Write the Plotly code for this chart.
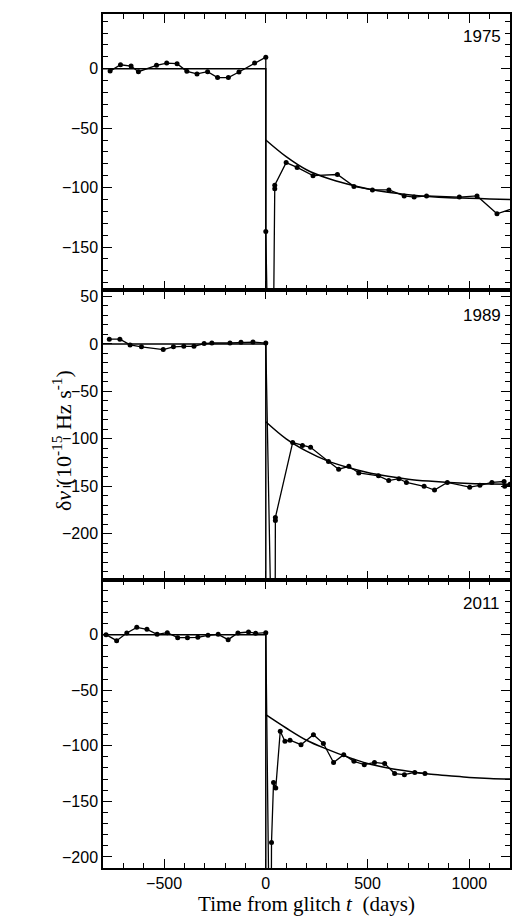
import plotly.graph_objects as go

# Panel 1975
t75 = [-765,-714,-662,-626,-537,-487,-436,-388,-338,-286,-237,-184,-132,-55,0,
       0,28,44,44,100,154,232,352,433,524,605,680,729,790,951,1038,1136,1225]
d75 = [-2,3.3,2.2,-2.5,2.8,4.7,4.2,-2.2,-4.4,-2.5,-7.5,-7.5,-2.8,4.7,9.7,
       -137,-400,-101,-98,-79,-83,-90,-89,-99,-102,-102,-107,-108,-107,-108,-107,-122,-117]
m75_t = [0,100,200,300,400,500,600,700,800,900,1000,1100,1200]
m75_y = [-60,-74,-85,-92,-97,-101,-104,-106,-107.5,-108.5,-109,-109.5,-110]

# Panel 1989
t89 = [-769,-717,-667,-611,-504,-454,-403,-353,-303,-265,-176,-122,-63,0,
       44,47,47,132,180,220,308,358,408,457,554,604,654,691,778,829,892,1002,1052,1111,1171,1174,1200]
d89 = [5,5,-1,-3,-6,-3,-2.5,-2.5,0.4,1,1,1.8,2,1,
       -500,-186,-183,-104,-107,-109,-124,-132,-129,-136,-139,-144,-142,-146,-150,-154,-146,-151,-149,-146,-145,-150,-148]
m89_t = [0,100,200,300,400,500,600,700,800,900,1000,1100,1200]
m89_y = [-82,-100,-113,-123,-130,-135.5,-139.5,-142.5,-144.5,-146,-147,-147.5,-148]

# Panel 2011
t11 = [-785,-733,-683,-634,-584,-534,-484,-433,-385,-334,-284,-234,-185,-137,-85,-50,0,
       25,28,38,49,71,94,119,173,234,283,333,383,433,484,534,584,633,681,732,782]
d11 = [0,-5.4,1.5,6.6,4.8,0.3,1.8,-2.7,-2.7,-2.4,-0.6,0.3,-4.5,1.5,2.4,1.2,1.8,
       -400,-187,-133,-138,-87,-96,-95,-99,-90,-98,-115,-108,-114,-117,-115,-116,-125,-126,-124,-125]
m11_t = [0,100,200,300,400,500,600,700,800,900,1000,1100,1200]
m11_y = [-72,-84,-95,-103,-110,-116,-120,-123,-125.5,-127,-128.5,-129.5,-130]

years = ["1975", "1989", "2011"]
yranges = [[-186, 46], [-249, 57], [-210, 49]]
domains = [[0.677, 1.0], [0.337, 0.677], [0.0, 0.337]]
panels = [(t75, d75, m75_t, m75_y), (t89, d89, m89_t, m89_y), (t11, d11, m11_t, m11_y)]

fig = go.Figure()
for i, (t, d, mt, my) in enumerate(panels):
    ax = "" if i == 0 else str(i + 1)
    xa, ya = "x" + ax, "y" + ax
    # model: zero baseline and vertical drop
    fig.add_trace(go.Scatter(x=[-800, 0, 0], y=[0, 0, -1000],
                             mode="lines", line=dict(color="black", width=1.5),
                             xaxis=xa, yaxis=ya, showlegend=False))
    # model: recovery curve
    fig.add_trace(go.Scatter(x=mt, y=my, mode="lines",
                             line=dict(color="black", width=1.5, shape="spline"),
                             xaxis=xa, yaxis=ya, showlegend=False))
    fig.add_trace(go.Scatter(x=t, y=d, mode="lines+markers",
                             line=dict(color="black", width=1.3),
                             marker=dict(color="black", size=5),
                             xaxis=xa, yaxis=ya, showlegend=False))
    axcommon = dict(showline=True, linecolor="black", linewidth=1.5, mirror="ticks",
                    ticks="inside", ticklen=9, tickwidth=1.3, tickcolor="black",
                    showgrid=False, zeroline=False,
                    tickfont=dict(family="Liberation Sans", size=16, color="black"))
    fig.layout["xaxis" + ax] = go.layout.XAxis(
        range=[-800, 1200], dtick=500, tick0=0, anchor=ya, domain=[0, 1],
        showticklabels=(i == 2),
        minor=dict(dtick=100, ticks="inside", ticklen=5, tickcolor="black", tickwidth=1.2),
        **axcommon)
    fig.layout["yaxis" + ax] = go.layout.YAxis(
        range=yranges[i], dtick=50, tick0=0, anchor=xa, domain=domains[i],
        minor=dict(dtick=10, ticks="inside", ticklen=5, tickcolor="black", tickwidth=1.2),
        **axcommon)
    fig.add_annotation(x=1060, y=[27, 30, 28][i], xref=xa, yref=ya, text=years[i],
                       showarrow=False, font=dict(family="Liberation Sans", size=17, color="black"))

fig.update_layout(
    width=520, height=920, margin=dict(l=95, r=18, t=4, b=60),
    plot_bgcolor="white", paper_bgcolor="white",
    xaxis3=dict(title=dict(text="Time from glitch <i>t</i>  (days)",
                           font=dict(family="Liberation Serif", size=21, color="black"),
                           standoff=4)),
)
fig.add_annotation(x=-0.14, y=0.5, xref="paper", yref="paper", textangle=-90,
                   text="δ<i>ν̇</i> (10<sup>-15</sup> Hz s<sup>-1</sup>)", showarrow=False,
                   font=dict(family="Liberation Serif", size=22, color="black"))
fig.write_html("out.html")
